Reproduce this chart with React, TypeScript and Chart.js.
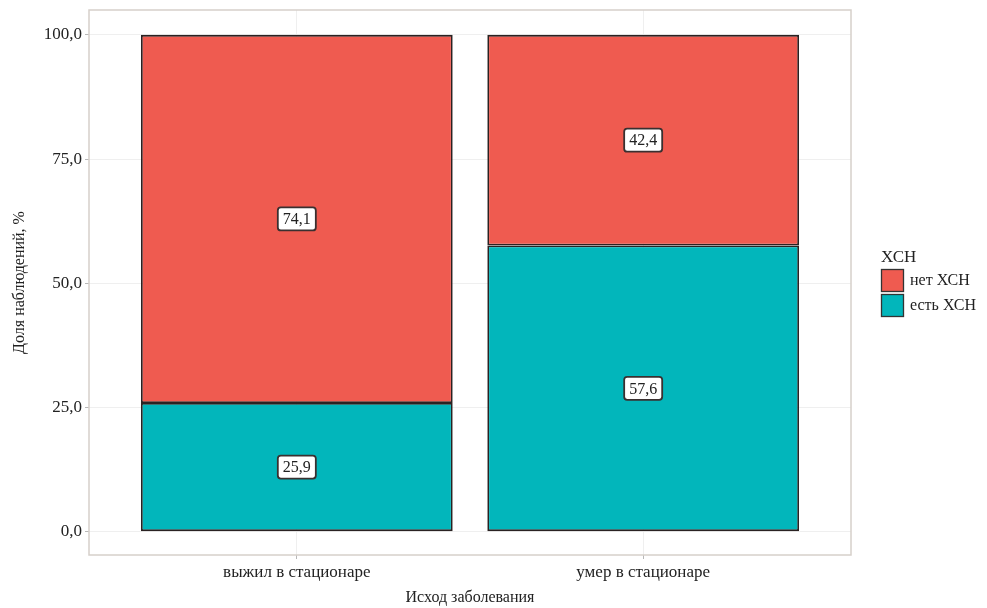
import React, { useEffect, useRef } from 'react';
import { Chart, registerables } from 'chart.js';

Chart.register(...registerables);

const categories = ['выжил в стационаре', 'умер в стационаре'];
const seriesLabels = ['есть ХСН', 'нет ХСН'];
const estValues = [25.9, 57.6];
const netValues = [74.1, 42.4];
const yTicks = [0, 25, 50, 75, 100];
const legendTitle = 'ХСН';
const xTitle = 'Исход заболевания';
const yTitle = 'Доля наблюдений, %';

const TEAL = '#02B6BB';
const RED = '#EF5B50';
const FONT = "'Liberation Serif', 'DejaVu Serif', serif";
const TEXT = '#222222';

const fmt = (v: number) => v.toFixed(1).replace('.', ',');

const panelPlugin = {
  id: 'panel',
  beforeDatasetsDraw(chart: any) {
    const { ctx, chartArea: a } = chart;
    ctx.save();
    ctx.strokeStyle = '#d6d0ca';
    ctx.lineWidth = 1.5;
    ctx.strokeRect(a.left, a.top, a.right - a.left, a.bottom - a.top);
    ctx.restore();
  },
  afterDatasetsDraw(chart: any) {
    const { ctx } = chart;
    ctx.save();
    ctx.font = `16px ${FONT}`;
    ctx.textAlign = 'center';
    ctx.textBaseline = 'middle';
    chart.data.datasets.forEach((ds: any, di: number) => {
      const meta = chart.getDatasetMeta(di);
      meta.data.forEach((el: any, i: number) => {
        const v = ds.data[i].y;
        const txt = fmt(v);
        const cx = el.x;
        const cy = (el.y + el.base) / 2;
        const w = ctx.measureText(txt).width + 10;
        const h = 23;
        ctx.beginPath();
        ctx.roundRect(cx - w / 2, cy - h / 2, w, h, 3);
        ctx.fillStyle = '#ffffff';
        ctx.fill();
        ctx.lineWidth = 1.8;
        ctx.strokeStyle = '#3a3030';
        ctx.stroke();
        ctx.fillStyle = TEXT;
        ctx.fillText(txt, cx, cy + 1);
      });
    });
    ctx.restore();
  },
  afterDraw(chart: any) {
    const { ctx } = chart;
    const x0 = 881;
    ctx.save();
    ctx.fillStyle = TEXT;
    ctx.font = `17px ${FONT}`;
    ctx.textAlign = 'left';
    ctx.textBaseline = 'alphabetic';
    ctx.fillText(legendTitle, x0, 262);
    const items = [
      { label: seriesLabels[1], color: RED },
      { label: seriesLabels[0], color: TEAL },
    ];
    items.forEach((it, i) => {
      const y = 269 + i * 25;
      ctx.fillStyle = it.color;
      ctx.fillRect(x0, y, 23, 23);
      ctx.lineWidth = 1.3;
      ctx.strokeStyle = '#333333';
      ctx.strokeRect(x0 + 0.5, y + 0.5, 22, 22);
      ctx.fillStyle = TEXT;
      ctx.font = `16px ${FONT}`;
      ctx.textBaseline = 'middle';
      ctx.fillText(it.label, x0 + 29, y + 12);
    });
    ctx.restore();
  },
};

export default function App() {
  const ref = useRef<HTMLCanvasElement | null>(null);
  useEffect(() => {
    if (!ref.current) return;
    const barStyle = {
      borderColor: '#2a2222',
      borderWidth: 1.8,
      borderSkipped: false,
      barPercentage: 0.9,
      categoryPercentage: 1,
    };
    const chart = new Chart(ref.current, {
      type: 'bar',
      data: {
        datasets: [
          {
            label: seriesLabels[0],
            data: estValues.map((v, i) => ({ x: i, y: v })),
            backgroundColor: TEAL,
            ...barStyle,
          },
          {
            label: seriesLabels[1],
            data: netValues.map((v, i) => ({ x: i, y: v })),
            backgroundColor: RED,
            ...barStyle,
          },
        ],
      },
      options: {
        animation: false,
        responsive: true,
        maintainAspectRatio: false,
        layout: { padding: { top: 10, right: 136, left: 0, bottom: 0 } },
        plugins: { legend: { display: false }, tooltip: { enabled: false } },
        scales: {
          x: {
            type: 'linear',
            min: -0.6,
            max: 1.6,
            stacked: true,
            offset: false,
            afterBuildTicks: (s: any) => {
              s.ticks = categories.map((_, i) => ({ value: i }));
            },
            afterFit: (s: any) => {
              s.height = 53;
              s.paddingLeft = 0;
              s.paddingRight = 0;
            },
            ticks: {
              callback: (v: any) => categories[v] ?? '',
              font: { family: FONT, size: 17 },
              color: TEXT,
              padding: 3,
              autoSkip: false,
              maxRotation: 0,
            },
            grid: { offset: false, color: '#efefef', lineWidth: 1, tickLength: 4, tickColor: '#b8b8b8' },
            border: { display: false },
            title: {
              display: true,
              text: xTitle,
              font: { family: FONT, size: 16 },
              color: TEXT,
              padding: { top: 0, bottom: 1 },
            },
          },
          y: {
            type: 'linear',
            min: -4.7,
            max: 105,
            stacked: true,
            afterBuildTicks: (s: any) => {
              s.ticks = yTicks.map((v) => ({ value: v }));
            },
            afterFit: (s: any) => {
              s.width = 89;
              s.paddingTop = 0;
              s.paddingBottom = 0;
            },
            ticks: {
              callback: (v: any) => fmt(Number(v)),
              font: { family: FONT, size: 17 },
              color: TEXT,
              padding: 3,
            },
            grid: { color: '#efefef', lineWidth: 1, tickLength: 4, tickColor: '#b8b8b8' },
            border: { display: false },
            title: {
              display: true,
              text: yTitle,
              font: { family: FONT, size: 16 },
              color: TEXT,
              padding: { top: 10, bottom: 0 },
            },
          },
        },
      },
      plugins: [panelPlugin],
    });
    return () => chart.destroy();
  }, []);
  return (
    <div style={{ position: 'absolute', left: 0, top: 0, width: 987, height: 608, background: '#ffffff' }}>
      <canvas ref={ref} />
    </div>
  );
}
